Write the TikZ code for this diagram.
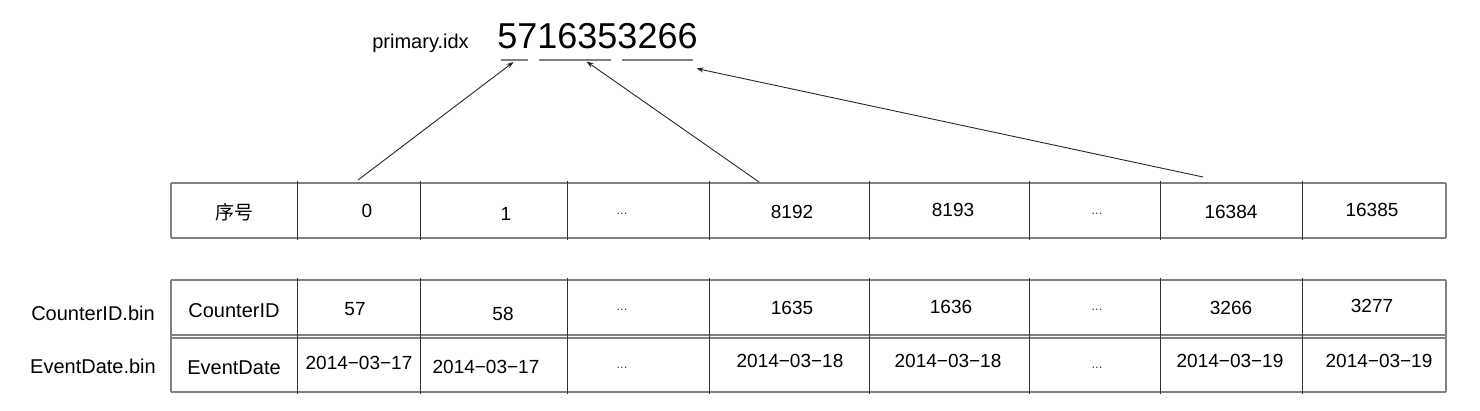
\documentclass[tikz,border=0pt]{standalone}
\usepackage{fontspec}
\setmainfont{Liberation Sans}
\newfontfamily\cjk{Noto Sans CJK SC}
\usetikzlibrary{arrows.meta}
\tikzset{
  txt/.style={inner sep=0pt, anchor=base, font=\fontsize{19}{22}\selectfont},
  lbl/.style={inner sep=0pt, anchor=base, font=\fontsize{20}{24}\selectfont},
  dts/.style={inner sep=0pt, anchor=base, font=\fontsize{13}{15}\selectfont, text=black!75},
  hline/.style={draw=black!50, line width=1.1pt},
  vline/.style={draw=black!80, line width=1pt},
  uline/.style={draw=black!50, line width=1.6pt},
  arr/.style={draw=black!85, line width=0.9pt, -{Stealth[length=7pt,width=5pt]}}
}
\begin{document}
\begin{tikzpicture}[x=1pt,y=-1pt]
\useasboundingbox (0,0) rectangle (1480,410);
% title
\node[lbl] (pidx) at (420.5,48) {primary.idx};
\node[inner sep=0pt, anchor=base, font=\fontsize{36}{40}\selectfont] (num) at (597.5,48) {5716353266};
% underlines
\coordinate (u1a) at (501,60); \coordinate (u1b) at (528,60);
\coordinate (u2a) at (539,60); \coordinate (u2b) at (611,60);
\coordinate (u3a) at (622,60); \coordinate (u3b) at (693,60);
\draw[uline] (u1a) -- (u1b);
\draw[uline] (u2a) -- (u2b);
\draw[uline] (u3a) -- (u3b);
% top table
\draw[hline] (171,183) -- (1446,183);
\draw[hline] (171,238) -- (1446,238);
\draw[hline] (171,183) -- (171,238);
\draw[hline] (1446,183) -- (1446,238);
\foreach \x in {297,420,567,709,869,1029,1160,1302}{
  \draw[vline] (\x,181) -- (\x,240);
}
% bottom table
\draw[hline] (171,280) -- (1446,280);
\draw[hline] (171,335) -- (1446,335);
\draw[hline] (171,338) -- (1446,338);
\draw[hline] (171,392) -- (1446,392);
\draw[hline] (171,280) -- (171,392);
\draw[hline] (1446,280) -- (1446,392);
\foreach \x in {297,420,567,709,869,1029,1160,1302}{
  \draw[vline] (\x,278) -- (\x,394);
}
% top row text
\node[txt, font=\cjk\fontsize{19}{22}\selectfont] (xh) at (234,219) {序号};
\node[txt] (t0) at (367,217) {0};
\node[txt] (t1) at (506,220) {1};
\node[dts] (td1) at (622,214) {...};
\node[txt] (t8192) at (792,218) {8192};
\node[txt] (t8193) at (953,216) {8193};
\node[dts] (td2) at (1097,214) {...};
\node[txt] (t16384) at (1231,218) {16384};
\node[txt] (t16385) at (1372,216) {16385};
% row 1
\node[lbl] (cidbin) at (93,320) {CounterID.bin};
\node[lbl] (cid) at (234,317) {CounterID};
\node[txt] (c57) at (355,315) {57};
\node[txt] (c58) at (503,320) {58};
\node[dts] (cd1) at (622,310) {...};
\node[txt] (c1635) at (792,314) {1635};
\node[txt] (c1636) at (951,313) {1636};
\node[dts] (cd2) at (1097,310) {...};
\node[txt] (c3266) at (1231,314) {3266};
\node[txt] (c3277) at (1372,312) {3277};
% row 2
\node[lbl] (edbin) at (93,373) {EventDate.bin};
\node[lbl] (ed) at (234,374) {EventDate};
\node[txt] (e1) at (359,369) {2014−03−17};
\node[txt] (e2) at (486,373) {2014−03−17};
\node[dts] (ed1) at (622,368) {...};
\node[txt] (e3) at (790,367) {2014−03−18};
\node[txt] (e4) at (948,367) {2014−03−18};
\node[dts] (ed2) at (1097,368) {...};
\node[txt] (e5) at (1230,367) {2014−03−19};
\node[txt] (e6) at (1379,367) {2014−03−19};
% arrows
\coordinate (s1) at (358,180); \coordinate (a1) at (513.5,62);
\coordinate (s2) at (759,182); \coordinate (a2) at (586.5,61.5);
\coordinate (s3) at (1203,177); \coordinate (a3) at (696.5,68.5);
\draw[arr] (s1) -- (a1);
\draw[arr] (s2) -- (a2);
\draw[arr] (s3) -- (a3);
\end{tikzpicture}
\end{document}
